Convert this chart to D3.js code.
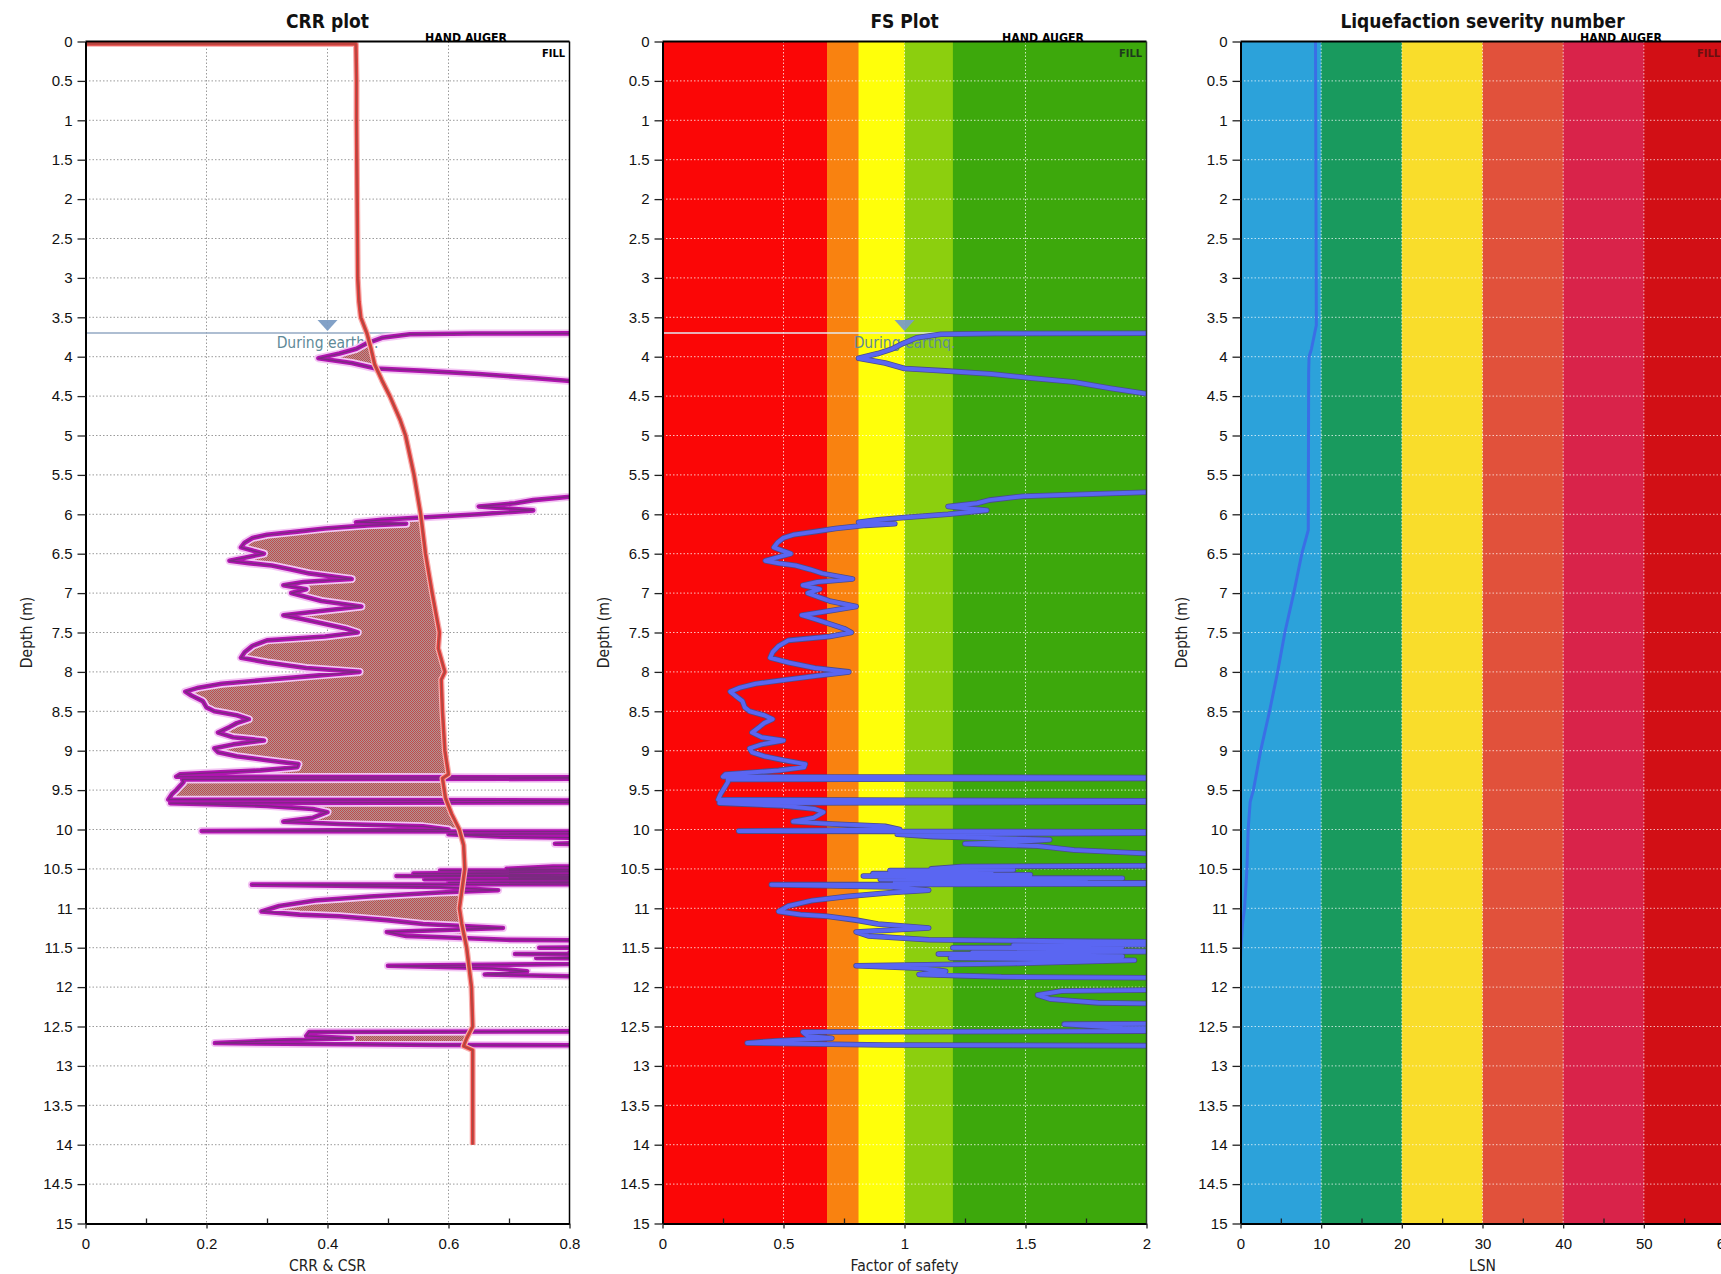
<!DOCTYPE html>
<html>
<head>
<meta charset="utf-8">
<script src="https://cdn.jsdelivr.net/npm/d3@7/dist/d3.min.js"></script>
<style>
  html, body { margin: 0; padding: 0; background: #fff; overflow: hidden; }
  svg { display: block; font-family: 'DejaVu Sans Condensed', 'DejaVu Sans', sans-serif; }
</style>
</head>
<body>
<svg id="chart" width="1721" height="1274"></svg>
<script>
// ---- CPT-derived profile below the water table (depth in m) ----
const sampleDepth = [
  3.700, 3.705, 3.715, 3.76, 3.83, 3.90, 3.96, 4.02, 4.08, 4.15,
  4.18, 4.22, 4.27, 4.32, 4.40, 4.47, 4.55, 5.00, 5.70, 5.72,
  5.77, 5.82, 5.86, 5.90, 5.95, 6.00, 6.04, 6.07, 6.10, 6.12,
  6.14, 6.18, 6.22, 6.26, 6.30, 6.36, 6.42, 6.46, 6.50, 6.55,
  6.59, 6.62, 6.65, 6.70, 6.75, 6.82, 6.86, 6.90, 6.95, 7.00,
  7.05, 7.10, 7.17, 7.22, 7.28, 7.33, 7.40, 7.45, 7.50, 7.55,
  7.60, 7.67, 7.75, 7.82, 7.88, 7.95, 8.00, 8.05, 8.10, 8.15,
  8.20, 8.25, 8.30, 8.37, 8.45, 8.50, 8.55, 8.60, 8.65, 8.70,
  8.77, 8.83, 8.87, 8.92, 8.97, 9.02, 9.07, 9.12, 9.17, 9.21,
  9.25, 9.30, 9.33, 9.345, 9.365, 9.40, 9.45, 9.50, 9.55, 9.62,
  9.645, 9.665, 9.70, 9.74, 9.78, 9.85, 9.90, 9.93, 9.96, 10.00,
  10.02, 10.035, 10.06, 10.09, 10.11, 10.13, 10.16, 10.18, 10.21, 10.26,
  10.32, 10.45, 10.47, 10.50, 10.51, 10.52, 10.535, 10.56, 10.575, 10.59,
  10.60, 10.61, 10.62, 10.63, 10.645, 10.65, 10.66, 10.67, 10.685, 10.70,
  10.73, 10.77, 10.80, 10.85, 10.90, 10.97, 11.04, 11.08, 11.10, 11.15,
  11.20, 11.25, 11.30, 11.35, 11.37, 11.40, 11.42, 11.45, 11.47, 11.49,
  11.50, 11.51, 11.53, 11.55, 11.56, 11.57, 11.58, 11.60, 11.61, 11.63,
  11.66, 11.70, 11.73, 11.76, 11.80, 11.84, 11.87, 11.90, 12.00, 12.05,
  12.10, 12.15, 12.20, 12.25, 12.45, 12.47, 12.52, 12.55, 12.57, 12.62,
  12.65, 12.68, 12.71, 12.735, 12.75, 14.00
];

// cyclic resistance ratio (values past 0.8 run off the plot)
const crrValue = [
  1.5, 0.64, 0.536, 0.49, 0.465, 0.448, 0.42, 0.385, 0.44, 0.48,
  0.56, 0.65, 0.74, 0.82, 0.90, 0.97, 1.1, 1.5, 1.5, 1.1,
  0.81, 0.74, 0.71, 0.65, 0.74, 0.65, 0.554, 0.49, 0.447, 0.53,
  0.466, 0.396, 0.35, 0.30, 0.276, 0.263, 0.257, 0.276, 0.295, 0.263,
  0.238, 0.27, 0.308, 0.34, 0.37, 0.44, 0.36, 0.327, 0.365, 0.34,
  0.365, 0.39, 0.456, 0.396, 0.327, 0.358, 0.40, 0.43, 0.45, 0.396,
  0.30, 0.276, 0.263, 0.257, 0.30, 0.365, 0.453, 0.377, 0.30, 0.225,
  0.187, 0.165, 0.175, 0.194, 0.20, 0.213, 0.25, 0.27, 0.25, 0.238,
  0.219, 0.244, 0.295, 0.244, 0.213, 0.219, 0.25, 0.30, 0.352, 0.35,
  0.289, 0.156, 0.15, 1.5, 0.16, 0.162, 0.156, 0.15, 0.143, 0.137,
  1.5, 0.14, 0.30, 0.376, 0.40, 0.376, 0.327, 0.42, 0.558, 0.60,
  0.192, 1.5, 0.60, 0.69, 0.85, 1.0, 0.9, 0.776, 0.95, 1.05,
  1.3, 1.5, 0.773, 0.696, 0.9, 0.586, 0.85, 0.542, 0.95, 0.514,
  0.9, 0.70, 1.2, 0.56, 1.0, 0.85, 1.1, 0.60, 1.5, 0.275,
  0.586, 0.682, 0.586, 0.47, 0.38, 0.32, 0.291, 0.354, 0.42, 0.498,
  0.558, 0.69, 0.498, 0.53, 0.60, 0.696, 1.1, 1.5, 0.9, 1.2,
  0.75, 1.1, 1.0, 1.3, 0.8, 1.0, 0.71, 0.95, 1.2, 0.745,
  1.2, 0.9, 0.50, 0.674, 0.73, 0.66, 0.85, 1.5, 1.5, 1.05,
  0.99, 1.0, 1.1, 1.5, 1.5, 1.06, 1.2, 1.5, 0.37, 0.365,
  0.44, 0.30, 0.214, 0.586, 1.5, 1.5
];

// factor of safety against liquefaction (values past 2 run off the plot)
const fsValue = [
  3.0, 1.38, 1.15, 1.05, 0.995, 0.95, 0.89, 0.81, 0.92, 1.00,
  1.17, 1.36, 1.52, 1.70, 1.85, 2.0, 2.3, 3.0, 3.0, 2.0,
  1.49, 1.35, 1.30, 1.18, 1.34, 1.18, 1.0, 0.89, 0.81, 0.96,
  0.84, 0.715, 0.63, 0.54, 0.50, 0.475, 0.46, 0.495, 0.53, 0.47,
  0.425, 0.48, 0.55, 0.61, 0.66, 0.785, 0.64, 0.58, 0.65, 0.60,
  0.645, 0.69, 0.80, 0.70, 0.575, 0.63, 0.70, 0.75, 0.78, 0.69,
  0.52, 0.48, 0.455, 0.445, 0.52, 0.63, 0.77, 0.64, 0.51, 0.385,
  0.32, 0.28, 0.30, 0.33, 0.34, 0.36, 0.42, 0.455, 0.42, 0.40,
  0.37, 0.41, 0.50, 0.41, 0.36, 0.37, 0.42, 0.50, 0.59, 0.585,
  0.48, 0.26, 0.25, 3.0, 0.27, 0.27, 0.26, 0.25, 0.24, 0.23,
  3.0, 0.235, 0.50, 0.63, 0.665, 0.625, 0.54, 0.70, 0.92, 0.98,
  0.315, 3.0, 0.97, 1.12, 1.38, 1.6, 1.45, 1.25, 1.55, 1.7,
  2.1, 3.0, 1.24, 1.11, 1.45, 0.94, 1.36, 0.87, 1.52, 0.83,
  1.45, 1.12, 1.9, 0.90, 1.6, 1.36, 1.75, 0.96, 3.0, 0.45,
  0.945, 1.1, 0.95, 0.76, 0.62, 0.52, 0.48, 0.57, 0.68, 0.80,
  0.89, 1.10, 0.80, 0.85, 0.95, 1.10, 1.78, 3.0, 1.45, 1.9,
  1.2, 1.75, 1.6, 2.1, 1.28, 1.6, 1.14, 1.52, 1.9, 1.19,
  1.95, 1.45, 0.80, 1.07, 1.17, 1.06, 1.4, 3.0, 3.0, 1.65,
  1.55, 1.6, 1.8, 3.0, 3.0, 1.66, 1.9, 3.0, 0.58, 0.60,
  0.70, 0.47, 0.35, 0.92, 3.0, 3.0
];

// cyclic stress ratio from the design earthquake
const csrDepth = [0.03, 0.032, 0.5, 1.0, 2.0, 3.0, 3.3, 3.5, 3.7, 3.9, 4.1, 4.3, 4.5, 4.8,
  5.0, 5.5, 6.0, 6.5, 7.0, 7.5, 7.7, 8.0, 8.1, 8.5, 9.0, 9.3, 9.35, 9.6, 9.8, 10.0,
  10.2, 10.5, 11.0, 11.2, 11.5, 12.0, 12.5, 12.65, 12.75, 12.8, 13.0, 14.0];
const csrValue = [0, 0.447, 0.448, 0.448, 0.449, 0.45, 0.452, 0.455, 0.465, 0.472, 0.478, 0.49, 0.503, 0.52,
  0.529, 0.543, 0.554, 0.562, 0.573, 0.585, 0.583, 0.594, 0.588, 0.59, 0.594, 0.600, 0.59, 0.595, 0.605, 0.618,
  0.625, 0.627, 0.618, 0.622, 0.63, 0.638, 0.64, 0.63, 0.625, 0.64, 0.64, 0.64];

// liquefaction severity number accumulated from depth
const lsnDepth = [0, 3.6, 3.7, 3.9, 4.0, 4.2, 6.2, 6.5, 7.0, 7.5, 8.0, 8.5, 9.0, 9.5, 9.65, 10.0, 10.5, 11.0, 11.2, 11.5, 11.65, 12.7];
const lsnValue = [9.3, 9.4, 9.2, 8.8, 8.5, 8.45, 8.4, 7.6, 6.6, 5.5, 4.6, 3.6, 2.5, 1.6, 1.2, 0.95, 0.8, 0.5, 0.25, 0.05, 0, 0];

const waterTable = 3.7;

// ---- axes ticks ----
const depthTicks = [0, 0.5, 1, 1.5, 2, 2.5, 3, 3.5, 4, 4.5, 5, 5.5, 6, 6.5, 7, 7.5, 8, 8.5, 9, 9.5,
  10, 10.5, 11, 11.5, 12, 12.5, 13, 13.5, 14, 14.5, 15];
const crrTicks = [0, 0.2, 0.4, 0.6, 0.8];
const crrMinorTicks = [0.1, 0.3, 0.5, 0.7];
const fsTicks = [0, 0.5, 1, 1.5, 2];
const fsMinorTicks = [0.25, 0.75, 1.25, 1.75];
const lsnTicks = [0, 10, 20, 30, 40, 50, 60];
const lsnMinorTicks = [5, 15, 25, 35, 45, 55];

// FS and LSN classification bands
const fsBandEdges = [0, 0.68, 0.81, 1.0, 1.2, 2];
const lsnBandEdges = [0, 10, 20, 30, 40, 50, 60];

// ---- layout ----
const plotTop = 41.5, plotBottom = 1223.5, plotWidth = 484;
const svg = d3.select('#chart');
const defs = svg.append('defs');
svg.append('rect').attr('width', 1721).attr('height', 1274).attr('fill', '#fff');

const y = d3.scaleLinear().domain([0, 15]).range([plotTop, plotBottom]);

// fine checker used for the liquefiable zone
const pat = defs.append('pattern').attr('id', 'hatch')
  .attr('width', 2).attr('height', 2).attr('patternUnits', 'userSpaceOnUse');
pat.append('rect').attr('width', 2).attr('height', 2).attr('fill', '#ad9898');
pat.append('rect').attr('width', 1).attr('height', 1).attr('fill', '#c4484a');
pat.append('rect').attr('x', 1).attr('y', 1).attr('width', 1).attr('height', 1).attr('fill', '#c4484a');

function buildPanel(cfg) {
  const x = d3.scaleLinear().domain(cfg.domain).range([cfg.left, cfg.left + plotWidth]);
  const g = svg.append('g');
  const clipId = 'clip-' + cfg.id;
  defs.append('clipPath').attr('id', clipId).append('rect')
    .attr('x', cfg.left).attr('y', plotTop)
    .attr('width', plotWidth).attr('height', plotBottom - plotTop);
  const body = g.append('g').attr('clip-path', `url(#${clipId})`);

  if (cfg.bands) {
    body.selectAll('rect.band').data(d3.pairs(cfg.bands)).join('rect')
      .attr('class', 'band')
      .attr('x', d => x(d[0])).attr('y', plotTop)
      .attr('width', d => x(d[1]) - x(d[0]) + 0.5).attr('height', plotBottom - plotTop)
      .attr('fill', (d, i) => cfg.bandColors[i]);
  }

  // dotted grid
  const grid = body.append('g').attr('stroke', cfg.gridColor)
    .attr('stroke-width', 1).attr('stroke-dasharray', '1.5,2');
  grid.selectAll('line.h').data(depthTicks.slice(1, -1)).join('line')
    .attr('x1', cfg.left).attr('x2', cfg.left + plotWidth)
    .attr('y1', d => y(d)).attr('y2', d => y(d));
  grid.selectAll('line.v').data(cfg.ticks.slice(1, -1)).join('line')
    .attr('x1', d => x(d)).attr('x2', d => x(d))
    .attr('y1', plotTop).attr('y2', plotBottom);

  return { x, g, body };
}

function drawFrame(p, cfg) {
  const { x, g } = p;
  // depth axis
  const ax = g.append('g').attr('transform', `translate(${cfg.left},0)`)
    .call(d3.axisLeft(y).tickValues(depthTicks).tickSize(8).tickSizeOuter(0)
      .tickPadding(5).tickFormat(d3.format('~g')));
  ax.select('.domain').attr('stroke', '#000').attr('stroke-width', 2);
  ax.selectAll('.tick line').attr('stroke', '#222').attr('stroke-width', 1.3);
  ax.selectAll('text').attr('font-size', 15).attr('fill', '#111').attr('font-family', null);

  // value axis
  const bx = g.append('g').attr('transform', `translate(0,${plotBottom})`)
    .call(d3.axisBottom(x).tickValues(cfg.ticks).tickSize(5).tickSizeOuter(0)
      .tickPadding(10).tickFormat(d3.format('~g')));
  bx.select('.domain').attr('stroke', '#000').attr('stroke-width', 2);
  bx.selectAll('.tick line').attr('stroke', '#222').attr('stroke-width', 1.3);
  bx.selectAll('text').attr('font-size', 15).attr('fill', '#111').attr('font-family', null);
  const mx = g.append('g').attr('transform', `translate(0,${plotBottom})`)
    .call(d3.axisBottom(x).tickValues(cfg.minor).tickSize(-5).tickFormat(''));
  mx.select('.domain').remove();
  mx.selectAll('.tick line').attr('stroke', '#222').attr('stroke-width', 1.3);

  // top border and right border
  g.append('line').attr('x1', cfg.left).attr('x2', cfg.left + plotWidth)
    .attr('y1', plotTop).attr('y2', plotTop).attr('stroke', '#000').attr('stroke-width', 2);
  g.append('line').attr('x1', cfg.left + plotWidth).attr('x2', cfg.left + plotWidth)
    .attr('y1', plotTop).attr('y2', plotBottom).attr('stroke', cfg.rightBorder).attr('stroke-width', 1.5);

  const cx = cfg.left + plotWidth / 2;
  g.append('text').attr('x', cx).attr('y', 28).attr('text-anchor', 'middle')
    .attr('font-size', 19).attr('font-weight', 'bold').attr('fill', '#111').text(cfg.title);
  g.append('text').attr('x', cx).attr('y', 1271).attr('text-anchor', 'middle')
    .attr('font-size', 15.5).attr('fill', '#222').text(cfg.xLabel);
  g.append('text').attr('transform', `translate(${cfg.left - 58},${(plotTop + plotBottom) / 2}) rotate(-90)`)
    .attr('text-anchor', 'middle').attr('dominant-baseline', 'middle')
    .attr('font-size', 15.5).attr('fill', '#222').text('Depth (m)');

  // soil layer annotations
  g.append('text').attr('x', cfg.left + 339.5).attr('y', 42)
    .attr('font-size', 12.5).attr('font-weight', 'bold').attr('fill', '#000')
    .attr('textLength', 82).attr('lengthAdjust', 'spacingAndGlyphs').text('HAND AUGER');
  g.append('text').attr('x', cfg.left + plotWidth - 4.5).attr('y', 57).attr('text-anchor', 'end')
    .attr('font-size', 11).attr('font-weight', 'bold').attr('fill', cfg.fillLabelColor).text('FILL');
}

function drawWaterTable(p, xMark, lineColor) {
  const { x, body } = p;
  const wy = y(waterTable);
  body.append('line').attr('x1', x.range()[0]).attr('x2', x.range()[1])
    .attr('y1', wy).attr('y2', wy).attr('stroke', lineColor).attr('stroke-width', 1.6);
  const mx = x(xMark);
  body.append('path').attr('d', `M${mx - 10},${wy - 13}L${mx + 10},${wy - 13}L${mx},${wy - 2}Z`)
    .attr('fill', '#7b9cc4').attr('opacity', 0.95);
  body.append('text').attr('x', mx).attr('y', wy + 15).attr('text-anchor', 'middle')
    .attr('font-size', 15.5).attr('fill', '#5f8a98').text('During earthq.');
}

const crrPts = sampleDepth.map((d, i) => ({ d, v: crrValue[i] }));
const fsPts = sampleDepth.map((d, i) => ({ d, v: fsValue[i] }));
const csrPts = csrDepth.map((d, i) => ({ d, v: csrValue[i] }));
const lsnPts = lsnDepth.map((d, i) => ({ d, v: lsnValue[i] }));

// ================= CRR plot =================
const crrCfg = {
  id: 'crr', left: 85.5, domain: [0, 0.8], ticks: crrTicks, minor: crrMinorTicks,
  gridColor: '#9a9a9a', title: 'CRR plot', xLabel: 'CRR & CSR', rightBorder: '#000',
  fillLabelColor: '#000'
};
const p1 = buildPanel(crrCfg);
drawWaterTable(p1, 0.4, '#93a9c3');
{
  const { x, body } = p1;
  const line = d3.line().x(d => x(d.v)).y(d => y(d.d));

  // zone where resistance falls below the earthquake demand
  const csrBelow = csrPts.filter(p => p.d >= sampleDepth[0]);
  const between = line(crrPts) + 'L' + line(csrBelow.slice().reverse()).slice(1) + 'Z';
  defs.append('clipPath').attr('id', 'csr-left').append('path')
    .attr('d', d3.area().y(d => y(d.d)).x0(x(0)).x1(d => x(d.v))(csrPts));
  body.append('path').attr('d', between).attr('fill', 'url(#hatch)')
    .attr('fill-rule', 'evenodd').attr('clip-path', 'url(#csr-left)');

  // CRR
  body.append('path').attr('d', line(crrPts)).attr('fill', 'none')
    .attr('stroke', '#f3c6f3').attr('stroke-width', 8).attr('stroke-linejoin', 'round');
  body.append('path').attr('d', line(crrPts)).attr('fill', 'none')
    .attr('stroke', '#b014b0').attr('stroke-width', 4.6).attr('stroke-linejoin', 'round');
  body.append('path').attr('d', line(crrPts)).attr('fill', 'none')
    .attr('stroke', '#7a2a80').attr('stroke-width', 1.3).attr('stroke-linejoin', 'round');

  // CSR
  body.append('path').attr('d', line(csrPts)).attr('fill', 'none')
    .attr('stroke', '#f7b0b0').attr('stroke-width', 6).attr('stroke-linejoin', 'round');
  body.append('path').attr('d', line(csrPts)).attr('fill', 'none')
    .attr('stroke', '#e5403b').attr('stroke-width', 3.6).attr('stroke-linejoin', 'round');
  body.append('path').attr('d', line(csrPts)).attr('fill', 'none')
    .attr('stroke', '#a24a46').attr('stroke-width', 1.2).attr('stroke-linejoin', 'round');
}
drawFrame(p1, crrCfg);

// ================= FS plot =================
const fsCfg = {
  id: 'fs', left: 662.5, domain: [0, 2], ticks: fsTicks, minor: fsMinorTicks,
  bands: fsBandEdges, bandColors: ['#fb0606', '#f98210', '#ffff0a', '#8ccf0e', '#3da80c'],
  gridColor: 'rgba(255,255,255,0.75)', title: 'FS Plot', xLabel: 'Factor of safety',
  rightBorder: '#2a3a2a', fillLabelColor: '#1d3a1d'
};
const p2 = buildPanel(fsCfg);
drawWaterTable(p2, 1.0, '#e2e8f2');
{
  const { x, body } = p2;
  const line = d3.line().x(d => x(d.v)).y(d => y(d.d));
  body.append('path').attr('d', line(fsPts)).attr('fill', 'none')
    .attr('stroke', '#4a4c8c').attr('stroke-width', 5.6).attr('stroke-linejoin', 'round');
  body.append('path').attr('d', line(fsPts)).attr('fill', 'none')
    .attr('stroke', '#5a66f2').attr('stroke-width', 4).attr('stroke-linejoin', 'round');
}
drawFrame(p2, fsCfg);

// ================= LSN plot =================
const lsnCfg = {
  id: 'lsn', left: 1240.5, domain: [0, 60], ticks: lsnTicks, minor: lsnMinorTicks,
  bands: lsnBandEdges, bandColors: ['#2ca2da', '#199a5e', '#f9dd2b', '#e1513b', '#d9234a', '#d20f15'],
  gridColor: 'rgba(255,255,255,0.7)', title: 'Liquefaction severity number', xLabel: 'LSN',
  rightBorder: '#000', fillLabelColor: '#6a1010'
};
const p3 = buildPanel(lsnCfg);
{
  const { x, body } = p3;
  const line = d3.line().x(d => x(d.v)).y(d => y(d.d));
  body.append('path').attr('d', line(lsnPts)).attr('fill', 'none')
    .attr('stroke', '#3a6fe6').attr('stroke-width', 3).attr('stroke-linejoin', 'round');
}
drawFrame(p3, lsnCfg);
</script>
</body>
</html>
